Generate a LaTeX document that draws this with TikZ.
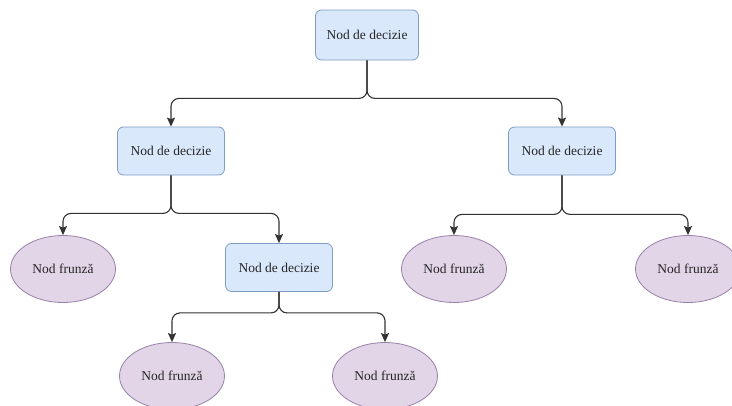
\documentclass[tikz,border=0pt]{standalone}
\usepackage{fontspec}
\setmainfont{Liberation Serif}
\usetikzlibrary{arrows.meta,shapes.geometric}
\definecolor{decfill}{HTML}{DAE8FC}
\definecolor{decdraw}{HTML}{7F9CC8}
\definecolor{leaffill}{HTML}{E1D5E7}
\definecolor{leafdraw}{HTML}{9B80AA}
\begin{document}
\begin{tikzpicture}[x=1pt,y=-1pt,
  decision/.style={draw=decdraw, fill=decfill, rounded corners=6pt, minimum width=107pt, minimum height=48pt, inner sep=0pt, font=\fontsize{13.5}{15}\selectfont, text=black!85, line width=0.8pt},
  leaf/.style={ellipse, draw=leafdraw, fill=leaffill, minimum width=105pt, minimum height=67pt, inner sep=0pt, font=\fontsize{13.5}{15}\selectfont, text=black!85, line width=0.8pt},
  link/.style={draw=black!80, line width=1.1pt, rounded corners=8pt, -{Stealth[length=9pt,width=8pt,inset=1.5pt]}}
]
\useasboundingbox (0,0) rectangle (732,405);
\clip (0,0) rectangle (732,405);
\fill[white] (0,0) rectangle (732,405);

\node[decision, minimum width=103pt, minimum height=50pt] (top) at (367,35) {Nod de decizie};
\node[decision] (n2) at (171,151) {Nod de decizie};
\node[decision] (n3) at (562,151) {Nod de decizie};
\node[decision] (n4) at (279,267.5) {Nod de decizie};

\node[leaf] (e1) at (63,269) {Nod frunză};
\node[leaf] (e2) at (454,269) {Nod frunză};
\node[leaf] (e3) at (688,269) {Nod frunză};
\node[leaf] (e4) at (172,376) {Nod frunză};
\node[leaf] (e5) at (385,376) {Nod frunză};

\draw[link] (top.south) -- ++(0,38) -| (n2.north);
\draw[link] (top.south) -- ++(0,38) -| (n3.north);
\draw[link] (n2.south) -- ++(0,38) -| (e1.north);
\draw[link] (n2.south) -- ++(0,38) -| (n4.north);
\draw[link] (n3.south) -- ++(0,39) -| (e2.north);
\draw[link] (n3.south) -- ++(0,39) -| (e3.north);
\draw[link] (n4.south) -- ++(0,21) -| (e4.north);
\draw[link] (n4.south) -- ++(0,21) -| (e5.north);
\end{tikzpicture}
\end{document}
